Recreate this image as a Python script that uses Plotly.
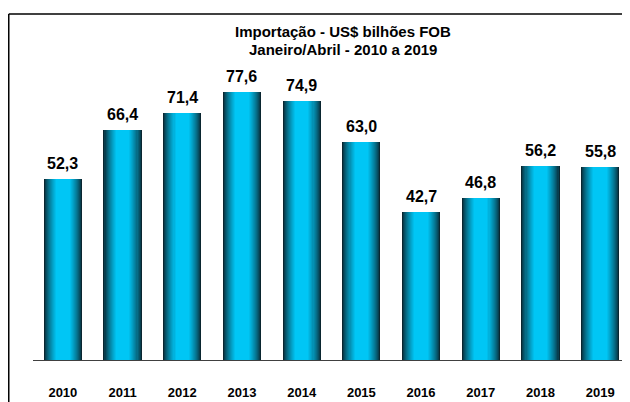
import plotly.graph_objects as go

years = ["2010", "2011", "2012", "2013", "2014", "2015", "2016", "2017", "2018", "2019"]
values = [52.3, 66.4, 71.4, 77.6, 74.9, 63.0, 42.7, 46.8, 56.2, 55.8]
labels = ["52,3", "66,4", "71,4", "77,6", "74,9", "63,0", "42,7", "46,8", "56,2", "55,8"]
title_lines = ["Importação - US$ bilhões FOB", "Janeiro/Abril - 2010 a 2019"]

FONT = "Liberation Sans, Arial, sans-serif"
BAR_W = 0.64
dark = (10, 38, 48)
bright = (0, 198, 245)

pos = list(range(len(years)))

fig = go.Figure()
N = 18
for i in range(N):
    t = i / (N - 1)
    f = min(1.0, t / 0.7) ** 0.75
    c = tuple(int(round(d + (b - d) * f)) for d, b in zip(dark, bright))
    w = BAR_W * (1 - t * 0.92)
    fig.add_trace(go.Bar(
        x=pos, y=values, width=[w] * len(pos),
        marker=dict(color="rgb(%d,%d,%d)" % c, line=dict(width=0)),
        hoverinfo="skip", showlegend=False,
    ))

for p, v, lab in zip(pos, values, labels):
    fig.add_annotation(x=p, y=v, text="<b>%s</b>" % lab, showarrow=False,
                       yanchor="bottom", yshift=5,
                       font=dict(family=FONT, size=16, color="black"))

for line, yp in zip(title_lines, [0.949, 0.898]):
    fig.add_annotation(xref="paper", yref="paper", x=0.519, y=yp, yanchor="middle",
                       text="<b>%s</b>" % line, showarrow=False,
                       font=dict(family=FONT, size=15, color="black"))

# frame lines
fx = -0.0406
fig.add_shape(type="line", xref="paper", yref="paper", x0=fx, x1=1.01, y0=1, y1=1,
              line=dict(color="black", width=1.5))
fig.add_shape(type="line", xref="paper", yref="paper", x0=fx, x1=fx, y0=1, y1=-0.2,
              line=dict(color="black", width=1.5))

fig.update_layout(
    width=622, height=394,
    margin=dict(l=25, r=0, t=6, b=42),
    paper_bgcolor="white", plot_bgcolor="white",
    barmode="overlay", bargap=0,
    xaxis=dict(range=[-0.5, len(years) - 0.5], tickmode="array", tickvals=pos, ticktext=years,
               showline=True, linecolor="#404040", linewidth=1, ticks="",
               showgrid=False, zeroline=False, ticklabelstandoff=20,
               tickfont=dict(family=FONT, size=13, color="black", weight="bold")),
    yaxis=dict(range=[0, 100], visible=False, showgrid=False, zeroline=False),
)

fig.write_html("out.html")
